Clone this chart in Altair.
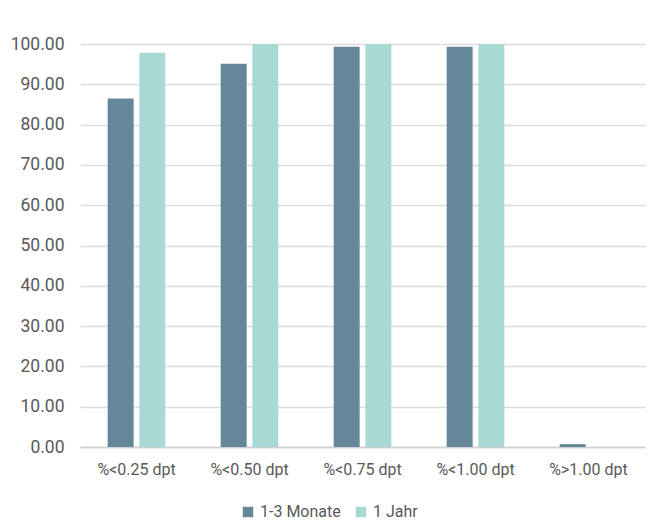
import altair as alt
import pandas as pd

categories = ["%<0.25 dpt", "%<0.50 dpt", "%<0.75 dpt", "%<1.00 dpt", "%>1.00 dpt"]
series = ["1-3 Monate", "1 Jahr"]
vals_monate = [86.5, 95.1, 99.3, 99.3, 0.7]
vals_jahr = [97.8, 100.0, 100.0, 100.0, 0.0]
colors = ["#64879a", "#a8d9d4"]

rows = []
for c, a, b in zip(categories, vals_monate, vals_jahr):
    rows.append({"cat": c, "series": series[0], "value": a})
    rows.append({"cat": c, "series": series[1], "value": b})
df = pd.DataFrame(rows)

font = "Roboto"

chart = alt.Chart(df).mark_bar().encode(
    x=alt.X("cat:N", sort=categories, title=None,
            scale=alt.Scale(paddingInner=0.49, paddingOuter=0.245),
            axis=alt.Axis(labelAngle=0, labelFontSize=16, labelColor="#595959",
                          labelFont=font, ticks=False, domainColor="#d0d0d0",
                          domainWidth=1.5, labelPadding=14)),
    xOffset=alt.XOffset("series:N", sort=series,
                        scale=alt.Scale(paddingInner=0.18)),
    y=alt.Y("value:Q", title=None,
            scale=alt.Scale(domain=[0, 100]),
            axis=alt.Axis(values=list(range(0, 101, 10)), format=".2f",
                          labelFontSize=17.5, labelColor="#595959", labelFont=font,
                          domain=False, ticks=False, labelPadding=16,
                          gridColor="#dcdcdc", gridWidth=1.3)),
    color=alt.Color("series:N", sort=series,
                    scale=alt.Scale(domain=series, range=colors),
                    legend=alt.Legend(title=None, orient="none", direction="horizontal",
                                      legendX=160, legendY=460, symbolType="square",
                                      symbolSize=110, symbolStrokeWidth=0,
                                      labelFontSize=16, labelColor="#595959",
                                      labelFont=font, columnPadding=12,
                                      labelOffset=4)),
).properties(
    width=565, height=403,
    autosize=alt.AutoSizeParams(type="none"),
    padding={"left": 72, "top": 36, "right": 3, "bottom": 76},
).configure_view(stroke=None)

chart.save("out.html", embed_options={"renderer": "svg", "actions": False})
